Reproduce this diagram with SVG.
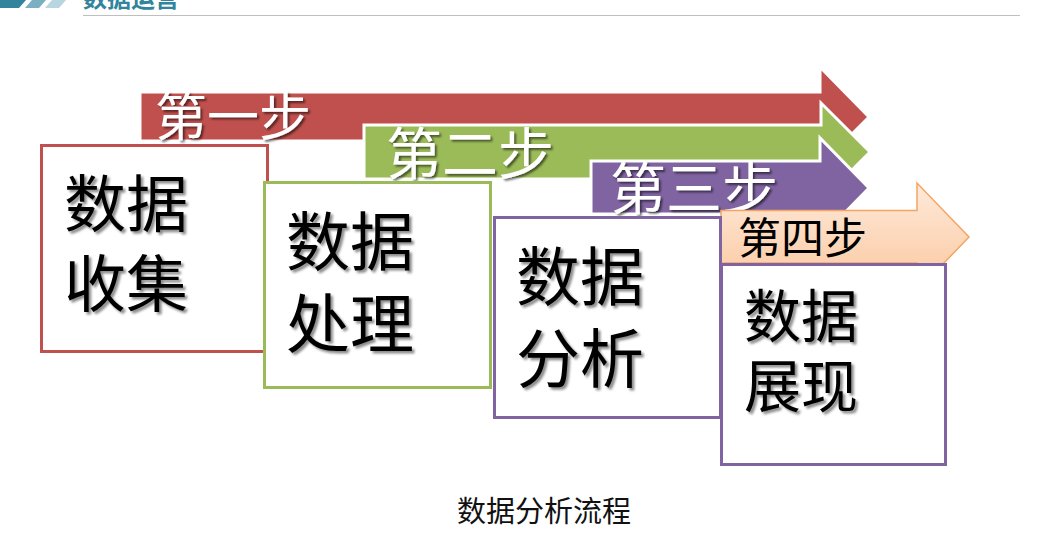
<svg xmlns="http://www.w3.org/2000/svg" width="1055" height="542" viewBox="0 0 1055 542">
<defs>
<style>
.cjk{font-family:"Noto Sans CJK SC","Noto Sans",sans-serif;}
.step{fill:#fff;filter:url(#sh);}
.box{fill:#fff;stroke-width:3;}
.big{fill:#000;filter:url(#sh2);}
.arr{stroke:#fff;stroke-width:3;stroke-linejoin:miter;}
</style>
<filter id="sh" x="-10%" y="-20%" width="130%" height="150%">
<feDropShadow dx="2" dy="2" stdDeviation="1" flood-color="#000" flood-opacity="0.55"/>
</filter>
<filter id="sh2" x="-10%" y="-20%" width="130%" height="150%">
<feDropShadow dx="2.5" dy="2.5" stdDeviation="1.2" flood-color="#000" flood-opacity="0.45"/>
</filter>
<linearGradient id="og" x1="0" y1="0" x2="0" y2="1">
<stop offset="0" stop-color="#FEEADB"/>
<stop offset="1" stop-color="#FBC79D"/>
</linearGradient>
</defs>
<rect width="1055" height="542" fill="#fff"/>
<g id="header">
<polygon points="0,0 26,0 19,8 0,8" fill="#31849B"/>
<polygon points="32,0 46,0 39,8 25,8" fill="#7AB0C1"/>
<polygon points="52,0 66,0 59,8 45,8" fill="#B8D6DF"/>
<text x="83" y="7" class="cjk" font-size="24" font-weight="bold" fill="#31849B">数据运营</text>
<line x1="83" y1="15.5" x2="1020" y2="15.5" stroke="#BFBFBF" stroke-width="1"/>
</g>
<g id="step1">
<polygon class="arr" points="140,92 820,92 820,67 869,117 820,166 820,141 140,141" fill="#C0504D"/>
<text x="155" y="136" class="cjk step" font-size="52">第一步</text>
</g>
<g id="step2">
<polygon class="arr" points="364,125 821,125 821,103 870,152 821,201 821,179 364,179" fill="#9BBB59"/>
<text x="386" y="174" class="cjk step" font-size="56">第二步</text>
</g>
<g id="step3">
<polygon class="arr" points="591,161 820,161 820,138 869,188 820,238 820,214 591,214" fill="#8064A2"/>
<text x="610" y="209" class="cjk step" font-size="56">第三步</text>
</g>
<g id="step4">
<polygon points="721,210.5 917,210.5 917,183 969,237 917,291 917,263 721,263" fill="url(#og)" stroke="#F6A461" stroke-width="1.5"/>
<text x="738" y="254" class="cjk" font-size="43" fill="#000">第四步</text>
</g>
<g id="box1">
<rect class="box" x="41.5" y="145.5" width="226" height="206" stroke="#C0504D"/>
<text x="64" y="227" class="cjk big" font-size="62">数据</text>
<text x="64" y="307" class="cjk big" font-size="62">收集</text>
</g>
<g id="box2">
<rect class="box" x="264.5" y="182.5" width="226" height="205" stroke="#9BBB59"/>
<text x="286" y="265" class="cjk big" font-size="64">数据</text>
<text x="286" y="347" class="cjk big" font-size="64">处理</text>
</g>
<g id="box3">
<rect class="box" x="494.5" y="217.5" width="226" height="200" stroke="#8064A2"/>
<text x="516" y="300" class="cjk big" font-size="64">数据</text>
<text x="516" y="382" class="cjk big" font-size="64">分析</text>
</g>
<g id="box4">
<rect class="box" x="721.5" y="264.5" width="224" height="200" stroke="#8064A2"/>
<text x="744" y="337" class="cjk big" font-size="57">数据</text>
<text x="744" y="407" class="cjk big" font-size="57">展现</text>
</g>
<g id="caption">
<text x="457" y="522" class="cjk" font-size="29" fill="#111">数据分析流程</text>
</g>
</svg>
